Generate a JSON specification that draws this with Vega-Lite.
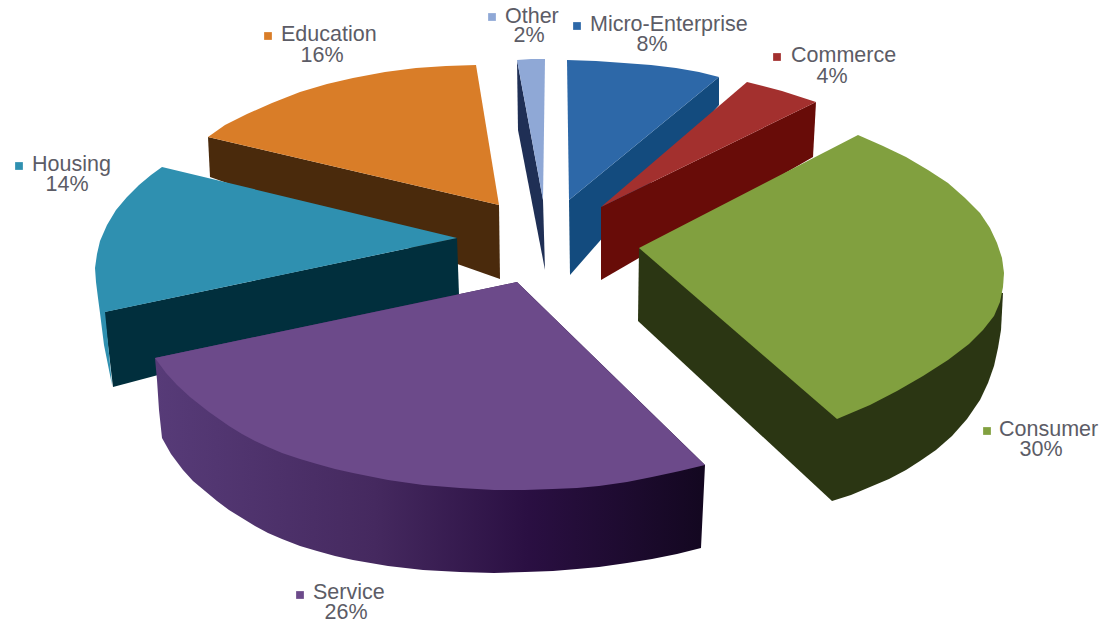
{
  "$schema": "https://vega.github.io/schema/vega-lite/v6.json",
  "autosize": {"type": "fit", "contains": "padding"},
  "width": 1106,
  "height": 626,
  "padding": 0,
  "background": "#ffffff",
  "config": {"view": {"stroke": null}},
  "datasets": {
    "faces": [
      {"piece": "Education side", "x": 208, "y": 137},
      {"piece": "Education side", "x": 499, "y": 205},
      {"piece": "Education side", "x": 500, "y": 279},
      {"piece": "Education side", "x": 210, "y": 177},
      {"piece": "Education top", "x": 208, "y": 137},
      {"piece": "Education top", "x": 225, "y": 125},
      {"piece": "Education top", "x": 247, "y": 114},
      {"piece": "Education top", "x": 272, "y": 103},
      {"piece": "Education top", "x": 300, "y": 92},
      {"piece": "Education top", "x": 327, "y": 84},
      {"piece": "Education top", "x": 353, "y": 78},
      {"piece": "Education top", "x": 385, "y": 72},
      {"piece": "Education top", "x": 416, "y": 68},
      {"piece": "Education top", "x": 446, "y": 66},
      {"piece": "Education top", "x": 476, "y": 65},
      {"piece": "Education top", "x": 499, "y": 205},
      {"piece": "Housing side", "x": 104, "y": 312},
      {"piece": "Housing side", "x": 457, "y": 238},
      {"piece": "Housing side", "x": 459, "y": 295},
      {"piece": "Housing side", "x": 113, "y": 387},
      {"piece": "Housing top", "x": 457, "y": 238},
      {"piece": "Housing top", "x": 162, "y": 167},
      {"piece": "Housing top", "x": 151, "y": 175},
      {"piece": "Housing top", "x": 139, "y": 185},
      {"piece": "Housing top", "x": 127, "y": 197},
      {"piece": "Housing top", "x": 116, "y": 210},
      {"piece": "Housing top", "x": 107, "y": 225},
      {"piece": "Housing top", "x": 100, "y": 241},
      {"piece": "Housing top", "x": 97, "y": 254},
      {"piece": "Housing top", "x": 95, "y": 268},
      {"piece": "Housing top", "x": 96, "y": 282},
      {"piece": "Housing top", "x": 98, "y": 298},
      {"piece": "Housing top", "x": 100, "y": 313},
      {"piece": "Housing top", "x": 104, "y": 345},
      {"piece": "Housing top", "x": 112, "y": 385},
      {"piece": "Housing top", "x": 105, "y": 312},
      {"piece": "Other side", "x": 517, "y": 60},
      {"piece": "Other side", "x": 543, "y": 200},
      {"piece": "Other side", "x": 545, "y": 270},
      {"piece": "Other side", "x": 518, "y": 130},
      {"piece": "Other top", "x": 517, "y": 60},
      {"piece": "Other top", "x": 531, "y": 59},
      {"piece": "Other top", "x": 545, "y": 59},
      {"piece": "Other top", "x": 543, "y": 200},
      {"piece": "Micro-Enterprise side", "x": 569, "y": 200},
      {"piece": "Micro-Enterprise side", "x": 719, "y": 77},
      {"piece": "Micro-Enterprise side", "x": 719, "y": 105},
      {"piece": "Micro-Enterprise side", "x": 570, "y": 275},
      {"piece": "Micro-Enterprise top", "x": 567, "y": 60},
      {"piece": "Micro-Enterprise top", "x": 596, "y": 61},
      {"piece": "Micro-Enterprise top", "x": 624, "y": 63},
      {"piece": "Micro-Enterprise top", "x": 651, "y": 65},
      {"piece": "Micro-Enterprise top", "x": 676, "y": 68},
      {"piece": "Micro-Enterprise top", "x": 699, "y": 72},
      {"piece": "Micro-Enterprise top", "x": 719, "y": 77},
      {"piece": "Micro-Enterprise top", "x": 569, "y": 200},
      {"piece": "Commerce side", "x": 601, "y": 207},
      {"piece": "Commerce side", "x": 816, "y": 102},
      {"piece": "Commerce side", "x": 813, "y": 157},
      {"piece": "Commerce side", "x": 601, "y": 280},
      {"piece": "Commerce top", "x": 601, "y": 207},
      {"piece": "Commerce top", "x": 747, "y": 82},
      {"piece": "Commerce top", "x": 782, "y": 91},
      {"piece": "Commerce top", "x": 816, "y": 102},
      {"piece": "Consumer side", "x": 639, "y": 248},
      {"piece": "Consumer side", "x": 638, "y": 321},
      {"piece": "Consumer side", "x": 832, "y": 501},
      {"piece": "Consumer side", "x": 851, "y": 495},
      {"piece": "Consumer side", "x": 870, "y": 487},
      {"piece": "Consumer side", "x": 889, "y": 479},
      {"piece": "Consumer side", "x": 906, "y": 470},
      {"piece": "Consumer side", "x": 920, "y": 461},
      {"piece": "Consumer side", "x": 936, "y": 450},
      {"piece": "Consumer side", "x": 952, "y": 436},
      {"piece": "Consumer side", "x": 967, "y": 419},
      {"piece": "Consumer side", "x": 980, "y": 400},
      {"piece": "Consumer side", "x": 988, "y": 383},
      {"piece": "Consumer side", "x": 994, "y": 366},
      {"piece": "Consumer side", "x": 998, "y": 348},
      {"piece": "Consumer side", "x": 1001, "y": 330},
      {"piece": "Consumer side", "x": 1003, "y": 293},
      {"piece": "Consumer top", "x": 639, "y": 248},
      {"piece": "Consumer top", "x": 858, "y": 135},
      {"piece": "Consumer top", "x": 883, "y": 146},
      {"piece": "Consumer top", "x": 906, "y": 157},
      {"piece": "Consumer top", "x": 928, "y": 170},
      {"piece": "Consumer top", "x": 948, "y": 183},
      {"piece": "Consumer top", "x": 965, "y": 198},
      {"piece": "Consumer top", "x": 980, "y": 213},
      {"piece": "Consumer top", "x": 990, "y": 228},
      {"piece": "Consumer top", "x": 997, "y": 243},
      {"piece": "Consumer top", "x": 1002, "y": 258},
      {"piece": "Consumer top", "x": 1004, "y": 273},
      {"piece": "Consumer top", "x": 1003, "y": 287},
      {"piece": "Consumer top", "x": 1000, "y": 302},
      {"piece": "Consumer top", "x": 994, "y": 316},
      {"piece": "Consumer top", "x": 983, "y": 330},
      {"piece": "Consumer top", "x": 969, "y": 344},
      {"piece": "Consumer top", "x": 948, "y": 360},
      {"piece": "Consumer top", "x": 923, "y": 376},
      {"piece": "Consumer top", "x": 897, "y": 391},
      {"piece": "Consumer top", "x": 870, "y": 405},
      {"piece": "Consumer top", "x": 837, "y": 419},
      {"piece": "Service side", "x": 155, "y": 358},
      {"piece": "Service side", "x": 157, "y": 380},
      {"piece": "Service side", "x": 159, "y": 410},
      {"piece": "Service side", "x": 162, "y": 438},
      {"piece": "Service side", "x": 171, "y": 454},
      {"piece": "Service side", "x": 183, "y": 470},
      {"piece": "Service side", "x": 193, "y": 481},
      {"piece": "Service side", "x": 205, "y": 491},
      {"piece": "Service side", "x": 217, "y": 501},
      {"piece": "Service side", "x": 229, "y": 510},
      {"piece": "Service side", "x": 242, "y": 518},
      {"piece": "Service side", "x": 255, "y": 526},
      {"piece": "Service side", "x": 268, "y": 533},
      {"piece": "Service side", "x": 282, "y": 539},
      {"piece": "Service side", "x": 300, "y": 546},
      {"piece": "Service side", "x": 317, "y": 551},
      {"piece": "Service side", "x": 335, "y": 556},
      {"piece": "Service side", "x": 353, "y": 560},
      {"piece": "Service side", "x": 388, "y": 566},
      {"piece": "Service side", "x": 423, "y": 570},
      {"piece": "Service side", "x": 460, "y": 572},
      {"piece": "Service side", "x": 494, "y": 573},
      {"piece": "Service side", "x": 525, "y": 572},
      {"piece": "Service side", "x": 553, "y": 571},
      {"piece": "Service side", "x": 577, "y": 569},
      {"piece": "Service side", "x": 599, "y": 567},
      {"piece": "Service side", "x": 627, "y": 563},
      {"piece": "Service side", "x": 652, "y": 559},
      {"piece": "Service side", "x": 677, "y": 554},
      {"piece": "Service side", "x": 701, "y": 548},
      {"piece": "Service side", "x": 705, "y": 465},
      {"piece": "Service side", "x": 517, "y": 282},
      {"piece": "Service top", "x": 517, "y": 282},
      {"piece": "Service top", "x": 155, "y": 358},
      {"piece": "Service top", "x": 166, "y": 373},
      {"piece": "Service top", "x": 177, "y": 385},
      {"piece": "Service top", "x": 190, "y": 397},
      {"piece": "Service top", "x": 209, "y": 412},
      {"piece": "Service top", "x": 229, "y": 426},
      {"piece": "Service top", "x": 242, "y": 434},
      {"piece": "Service top", "x": 255, "y": 441},
      {"piece": "Service top", "x": 268, "y": 447},
      {"piece": "Service top", "x": 282, "y": 453},
      {"piece": "Service top", "x": 300, "y": 459},
      {"piece": "Service top", "x": 317, "y": 464},
      {"piece": "Service top", "x": 335, "y": 469},
      {"piece": "Service top", "x": 353, "y": 473},
      {"piece": "Service top", "x": 388, "y": 480},
      {"piece": "Service top", "x": 423, "y": 485},
      {"piece": "Service top", "x": 460, "y": 488},
      {"piece": "Service top", "x": 494, "y": 490},
      {"piece": "Service top", "x": 525, "y": 490},
      {"piece": "Service top", "x": 553, "y": 489},
      {"piece": "Service top", "x": 577, "y": 488},
      {"piece": "Service top", "x": 599, "y": 486},
      {"piece": "Service top", "x": 627, "y": 482},
      {"piece": "Service top", "x": 652, "y": 477},
      {"piece": "Service top", "x": 680, "y": 471},
      {"piece": "Service top", "x": 705, "y": 465}
    ],
    "labels": [
      {"slice": "Micro-Enterprise", "share": 0.08, "key_x": 577, "key_y": 26, "name_x": 590, "name_y": 25, "share_x": 652, "share_y": 45},
      {"slice": "Commerce", "share": 0.04, "key_x": 777, "key_y": 57, "name_x": 791, "name_y": 56, "share_x": 832, "share_y": 77},
      {"slice": "Consumer", "share": 0.30, "key_x": 987, "key_y": 431, "name_x": 999, "name_y": 430, "share_x": 1041, "share_y": 450},
      {"slice": "Service", "share": 0.26, "key_x": 300, "key_y": 595, "name_x": 313, "name_y": 593, "share_x": 346, "share_y": 613},
      {"slice": "Housing", "share": 0.14, "key_x": 19, "key_y": 166, "name_x": 32, "name_y": 165, "share_x": 67, "share_y": 185},
      {"slice": "Education", "share": 0.16, "key_x": 268, "key_y": 36, "name_x": 281, "name_y": 35, "share_x": 322, "share_y": 56},
      {"slice": "Other", "share": 0.02, "key_x": 492, "key_y": 17, "name_x": 505, "name_y": 17, "share_x": 529, "share_y": 36}
    ]
  },
  "encoding": {
    "x": {"field": "x", "type": "quantitative", "scale": {"domain": [0, 1106], "nice": false, "zero": false}, "axis": null},
    "y": {"field": "y", "type": "quantitative", "scale": {"domain": [626, 0], "nice": false, "zero": false}, "axis": null}
  },
  "layer": [
    {
      "data": {"name": "faces"},
      "transform": [{"filter": "indexof(datum.piece, 'Service') < 0"}],
      "mark": {"type": "line", "strokeWidth": 0, "interpolate": "linear-closed"},
      "encoding": {
        "detail": {"field": "piece"},
        "order": {"value": null},
        "fill": {
          "field": "piece",
          "type": "nominal",
          "legend": null,
          "scale": {
            "domain": ["Education side", "Education top", "Housing side", "Housing top", "Other side", "Other top", "Micro-Enterprise side", "Micro-Enterprise top", "Commerce side", "Commerce top", "Consumer side", "Consumer top"],
            "range": ["#4a2a0c", "#d97d28", "#012f3d", "#2f90b0", "#1f2f55", "#8fa8d6", "#134b7e", "#2d68a8", "#680c08", "#a3302e", "#2b3613", "#81a03f"]
          }
        }
      }
    },
    {
      "data": {"name": "faces"},
      "transform": [{"filter": "datum.piece === 'Service side'"}],
      "mark": {
        "type": "line",
        "strokeWidth": 0,
        "interpolate": "linear-closed",
        "fill": {"gradient": "linear", "x1": 0, "y1": 0, "x2": 1, "y2": 0, "stops": [
          {"offset": 0, "color": "#573b78"},
          {"offset": 0.4, "color": "#45295f"},
          {"offset": 0.68, "color": "#2a0f42"},
          {"offset": 1, "color": "#130720"}
        ]}
      },
      "encoding": {"order": {"value": null}}
    },
    {
      "data": {"name": "faces"},
      "transform": [{"filter": "datum.piece === 'Service top'"}],
      "mark": {"type": "line", "strokeWidth": 0, "interpolate": "linear-closed", "fill": "#6c4a8a"},
      "encoding": {"order": {"value": null}}
    },
    {
      "data": {"name": "labels"},
      "mark": {"type": "square", "size": 60, "opacity": 1},
      "encoding": {
        "x": {"field": "key_x", "type": "quantitative"},
        "y": {"field": "key_y", "type": "quantitative"},
        "color": {
          "field": "slice",
          "type": "nominal",
          "legend": null,
          "scale": {
            "domain": ["Micro-Enterprise", "Commerce", "Consumer", "Service", "Housing", "Education", "Other"],
            "range": ["#2d68a8", "#a3302e", "#81a03f", "#6c4a8a", "#2f90b0", "#d97d28", "#8fa8d6"]
          }
        }
      }
    },
    {
      "data": {"name": "labels"},
      "mark": {"type": "text", "align": "left", "baseline": "middle", "font": "Liberation Sans", "fontSize": 21.5, "fill": "#5c5c66"},
      "encoding": {
        "x": {"field": "name_x", "type": "quantitative"},
        "y": {"field": "name_y", "type": "quantitative"},
        "text": {"field": "slice"}
      }
    },
    {
      "data": {"name": "labels"},
      "mark": {"type": "text", "align": "center", "baseline": "middle", "font": "Liberation Sans", "fontSize": 21.5, "fill": "#5c5c66"},
      "encoding": {
        "x": {"field": "share_x", "type": "quantitative"},
        "y": {"field": "share_y", "type": "quantitative"},
        "text": {"field": "share", "type": "quantitative", "format": ".0%"}
      }
    }
  ]
}
